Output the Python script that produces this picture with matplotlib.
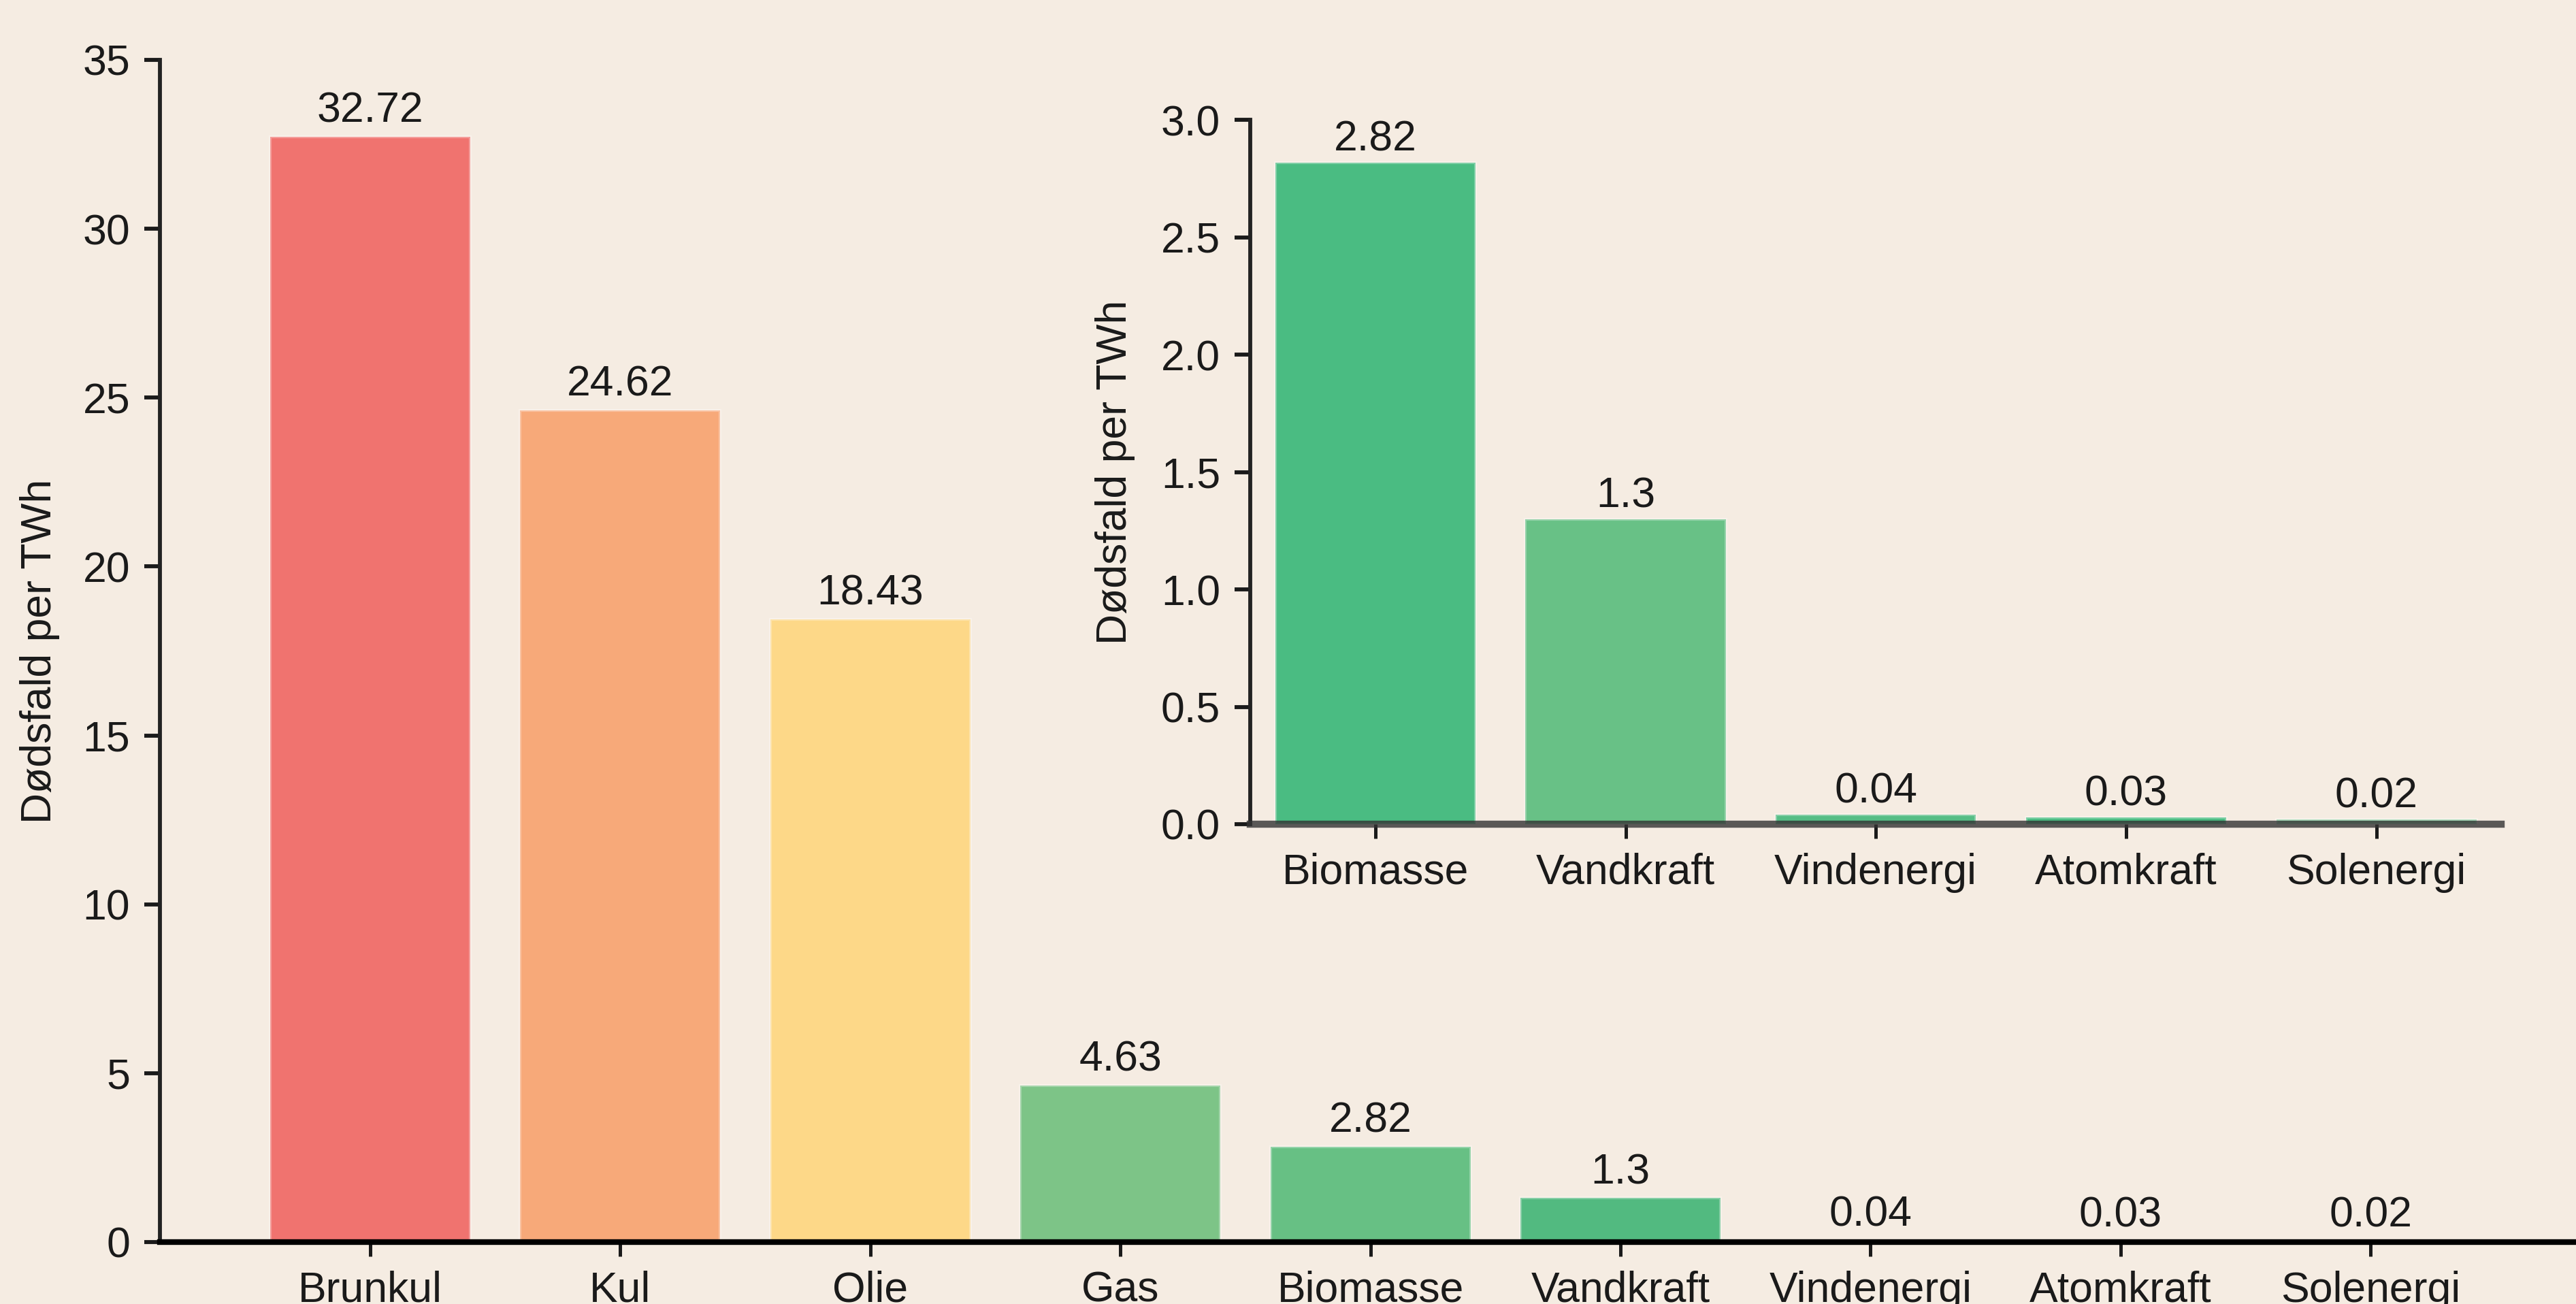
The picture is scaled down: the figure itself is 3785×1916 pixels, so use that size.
import matplotlib
matplotlib.use('Agg')
from matplotlib import pyplot as plt
import numpy as np

# deaths per TWh by energy source
sources = ['Brunkul', 'Kul', 'Olie', 'Gas', 'Biomasse', 'Vandkraft', 'Vindenergi', 'Atomkraft', 'Solenergi']
deaths = [32.72, 24.62, 18.43, 4.63, 2.82, 1.3, 0.04, 0.03, 0.02]
colors = ['#F0736F', '#F7A979', '#FDD888', '#7DC487', '#67C084', '#52BA80', '#45B680', '#3FB37E', '#3AB07C']

# zoomed-in part for the low-risk sources
inset_sources = ['Biomasse', 'Vandkraft', 'Vindenergi', 'Atomkraft', 'Solenergi']
inset_deaths = [2.82, 1.3, 0.04, 0.03, 0.02]
inset_colors = ['#4ABC82', '#68C186', '#55BD85', '#4ABC82', '#8CCFA3']

bg = '#F5ECE2'
txt = '#1a1a1a'
ylab = 'Dødsfald per TWh'

plt.rcParams['font.family'] = ['Liberation Sans', 'DejaVu Sans']
plt.rcParams['font.size'] = 15
plt.rcParams['text.color'] = txt
plt.rcParams['axes.labelcolor'] = txt
plt.rcParams['xtick.color'] = txt
plt.rcParams['ytick.color'] = txt

fig = plt.figure(figsize=(3786 / 300, 1916 / 300), dpi=300, facecolor=bg)


def style_axes(ax, bottom_lw, bottom_color):
    ax.set_facecolor(bg)
    ax.patch.set_alpha(0)
    for s in ['top', 'right']:
        ax.spines[s].set_visible(False)
    ax.spines['left'].set_linewidth(1.4)
    ax.spines['left'].set_color('#222222')
    ax.spines['bottom'].set_linewidth(bottom_lw)
    ax.spines['bottom'].set_color(bottom_color)
    ax.spines['bottom'].set_zorder(5)
    ax.tick_params(axis='y', length=5.5, width=1.4, pad=5)
    ax.tick_params(axis='x', length=5, width=1.2, pad=5)


# main chart
ax = fig.add_axes([0.0621, 0.0475, 0.9395, 0.9066])
x = np.arange(len(sources))
bars = ax.bar(x, deaths, width=0.8, color=colors, edgecolor=(1, 1, 1, 0.3), linewidth=1.0)
ax.bar_label(bars, labels=['{:g}'.format(v) for v in deaths], padding=2)
ax.set_xlim(-0.84, 8.84)
ax.set_ylim(0, 35)
ax.set_yticks(np.arange(0, 36, 5))
ax.set_xticks(x, labels=sources)
ax.set_ylabel(ylab, labelpad=8)
style_axes(ax, 2.0, '#000000')

# inset
ax2 = fig.add_axes([0.4852, 0.368, 0.4856, 0.5399])
x2 = np.arange(len(inset_sources))
bars2 = ax2.bar(x2, inset_deaths, width=0.8, color=inset_colors, edgecolor=(1, 1, 1, 0.3), linewidth=1.0)
ax2.bar_label(bars2, labels=['{:g}'.format(v) for v in inset_deaths], padding=1)
ax2.set_xlim(-0.5, 4.5)
ax2.set_ylim(0, 3.0)
ax2.set_yticks(np.arange(0, 3.01, 0.5))
ax2.set_yticklabels(['{:.1f}'.format(v) for v in np.arange(0, 3.01, 0.5)])
ax2.set_xticks(x2, labels=inset_sources)
ax2.set_ylabel(ylab, labelpad=9)
style_axes(ax2, 2.5, (0.2, 0.2, 0.2, 0.8))

fig.savefig('out.png', dpi=300, facecolor=bg)
